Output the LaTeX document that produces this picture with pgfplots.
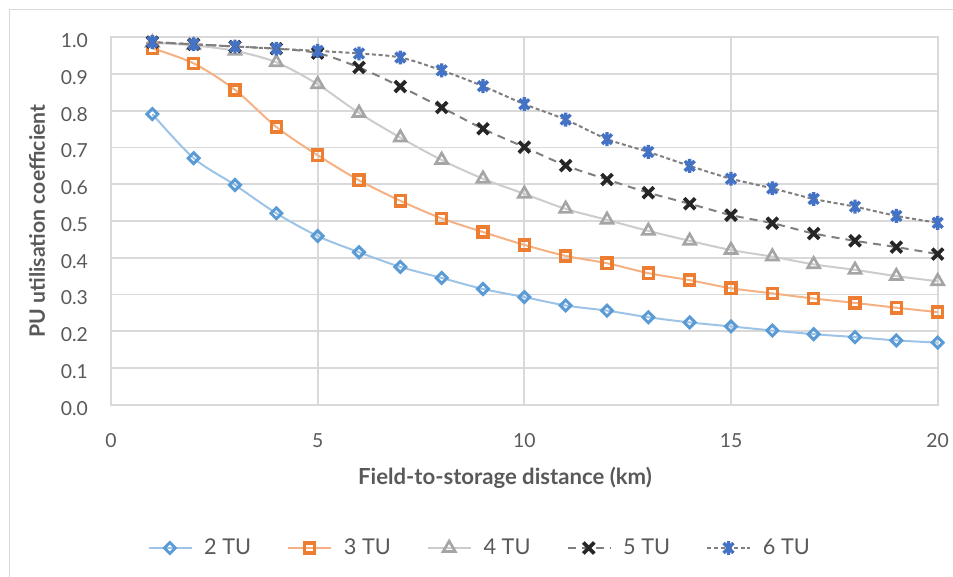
\documentclass[border=0pt]{standalone}
\usepackage{pgfplots}
\pgfplotsset{compat=1.18}
\usepackage{pgfplotstable}
\usepackage{fontspec}
\setmainfont{Lato}
\definecolor{gridgray}{HTML}{D9D9D9}
\definecolor{textgray}{HTML}{595959}
\definecolor{blueM}{HTML}{5B9BD5}
\definecolor{blueL}{HTML}{9DC3E6}
\definecolor{orangeM}{HTML}{ED7D31}
\definecolor{orangeL}{HTML}{F4B183}
\definecolor{grayM}{HTML}{A5A5A5}
\definecolor{grayL}{HTML}{CCCCCC}
\definecolor{blackM}{HTML}{262626}
\definecolor{dashL}{HTML}{7F7F7F}
\definecolor{blue6}{HTML}{4472C4}

\pgfdeclareplotmark{xstar}{%
  \pgfpathmoveto{\pgfqpoint{-.7071\pgfplotmarksize}{-.7071\pgfplotmarksize}}%
  \pgfpathlineto{\pgfqpoint{.7071\pgfplotmarksize}{.7071\pgfplotmarksize}}%
  \pgfpathmoveto{\pgfqpoint{-.7071\pgfplotmarksize}{.7071\pgfplotmarksize}}%
  \pgfpathlineto{\pgfqpoint{.7071\pgfplotmarksize}{-.7071\pgfplotmarksize}}%
  \pgfpathmoveto{\pgfqpoint{0pt}{-\pgfplotmarksize}}%
  \pgfpathlineto{\pgfqpoint{0pt}{\pgfplotmarksize}}%
  \pgfusepathqstroke}

\pgfplotstableread{
x   a     b     c     d     e
1   0.791 0.970 0.985 0.987 0.987
2   0.671 0.929 0.978 0.981 0.981
3   0.598 0.857 0.963 0.975 0.975
4   0.521 0.756 0.932 0.969 0.969
5   0.459 0.679 0.872 0.957 0.963
6   0.415 0.611 0.794 0.918 0.956
7   0.375 0.555 0.727 0.866 0.945
8   0.345 0.507 0.666 0.809 0.910
9   0.315 0.470 0.615 0.751 0.867
10  0.293 0.435 0.574 0.701 0.818
11  0.270 0.405 0.533 0.651 0.776
12  0.256 0.385 0.503 0.613 0.723
13  0.238 0.358 0.473 0.577 0.688
14  0.224 0.339 0.446 0.547 0.650
15  0.213 0.317 0.421 0.516 0.615
16  0.202 0.303 0.403 0.494 0.589
17  0.192 0.289 0.382 0.466 0.560
18  0.184 0.277 0.367 0.446 0.539
19  0.175 0.264 0.350 0.429 0.514
20  0.169 0.252 0.336 0.410 0.495
}\datatable

\begin{document}
\begin{tikzpicture}
\draw[gridgray, line width=1.1pt] (7.1pt,-10pt) -- (7.1pt,424.9pt) -- (730pt,424.9pt);
\begin{axis}[
  at={(83.25pt,128.475pt)}, anchor=south west,
  scale only axis, width=620pt, height=275.55pt,
  xmin=0, xmax=20, ymin=0, ymax=1,
  xtick={0,5,10,15,20}, ytick={0,0.1,...,1.01},
  grid=major,
  major grid style={gridgray, line width=1.3pt},
  axis line style={gridgray, line width=1.3pt},
  tick style={draw=none},
  clip=false,
  font=\fontsize{14.5}{17}\selectfont,
  /pgf/number format/assume math mode=true,
  yticklabel style={/pgf/number format/.cd, fixed, fixed zerofill, precision=1, /tikz/.cd, anchor=east, inner sep=0pt, xshift=-17.2pt, yshift=-2.6pt, text=textgray},
  xticklabel style={anchor=center, inner sep=0pt, yshift=-27pt, text=textgray},
  xlabel={\bfseries Field-to-storage distance (km)},
  ylabel={\bfseries PU utilisation coefficient},
  every axis x label/.style={at={(axis description cs:0.4766,-0.1995)}, anchor=center, text=textgray, font=\fontsize{16.6}{19}\selectfont},
  every axis y label/.style={at={(axis description cs:-0.0895,0.5)}, anchor=center, rotate=90, text=textgray, font=\fontsize{15.9}{19}\selectfont},
  legend columns=5,
  legend style={at={(axis description cs:0.4464,-0.390)}, anchor=center, draw=none, fill=none,
    text=textgray, font=\fontsize{16.3}{19}\selectfont,
    /tikz/every even column/.append style={column sep=25pt},
    /tikz/every odd column/.append style={column sep=7pt}},
  legend image code/.code={\draw[mark repeat=2,mark phase=2] plot coordinates {(0pt,0pt) (16pt,0pt) (32pt,0pt)};},
]
\addplot[smooth, blueL, line width=1.5pt, mark=square, mark size=2.9pt,
  mark options={solid, draw=blueM, fill=white, line width=2.2pt, rotate=45}] table[x=x,y=a] {\datatable};
\addlegendentry{2 TU}
\addplot[smooth, orangeL, line width=1.5pt, mark=square, mark size=3.8pt,
  mark options={solid, draw=orangeM, fill=white, line width=2.6pt}] table[x=x,y=b] {\datatable};
\addlegendentry{3 TU}
\addplot[smooth, grayL, line width=1.5pt, mark=triangle, mark size=5.2pt,
  mark options={solid, draw=grayM, fill=white, line width=2pt}] table[x=x,y=c] {\datatable};
\addlegendentry{4 TU}
\addplot[smooth, dashL, line width=1.5pt, dash pattern=on 6pt off 4.5pt, mark=x, mark size=5.8pt,
  mark options={solid, draw=blackM, line width=2.8pt}] table[x=x,y=d] {\datatable};
\addlegendentry{5 TU}
\addplot[smooth, dashL, line width=1.5pt, dash pattern=on 3pt off 2pt, mark=xstar, mark size=5.2pt,
  mark options={solid, draw=blue6, line width=2.6pt}] table[x=x,y=e] {\datatable};
\addlegendentry{6 TU}
\end{axis}
\pgfresetboundingbox
\path[use as bounding box] (0,0) rectangle (714.75pt,432pt);
\end{tikzpicture}
\end{document}
